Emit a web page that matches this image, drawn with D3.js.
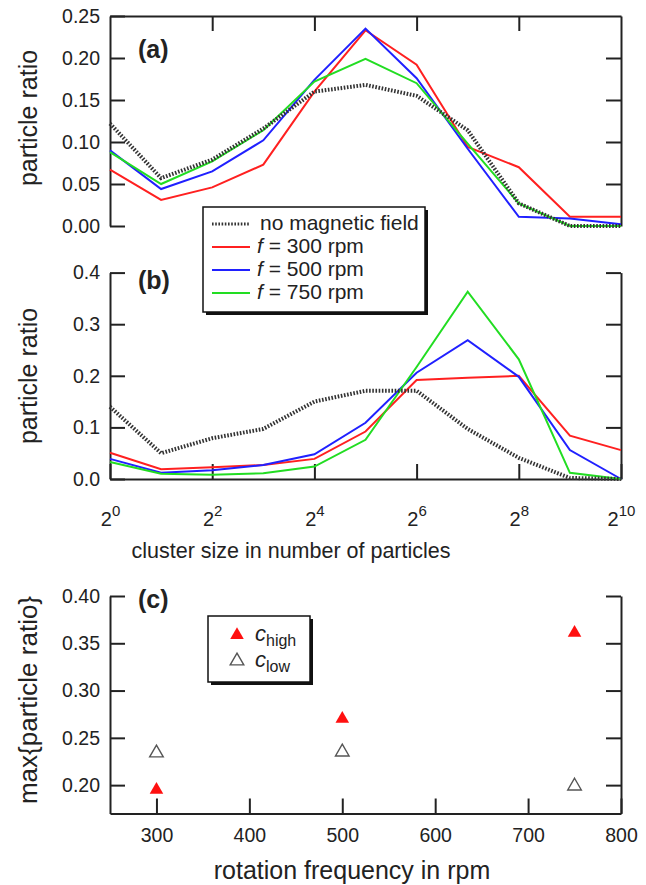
<!DOCTYPE html>
<html><head><meta charset="utf-8">
<script src="https://cdn.jsdelivr.net/npm/d3@7"></script>
<style>
body{margin:0;background:#fff}
svg text{font-family:"Liberation Sans",Arial,Helvetica,sans-serif;fill:#222}
</style>
</head><body>
<svg id="fig" width="646" height="885"></svg>
<script>
// ---------- data ----------
const clusterSizes = [1,2,4,8,16,32,64,128,256,512,1024];
const seriesNames = ["no magnetic field","f = 300 rpm","f = 500 rpm","f = 750 rpm"];
const seriesColors = ["#333333","#ff2020","#2020ff","#22dd22"];

const ratioA_noField = [0.122,0.057,0.079,0.116,0.160,0.168,0.155,0.114,0.027,0.000,0.000];
const ratioA_f300    = [0.067,0.031,0.046,0.073,0.160,0.233,0.192,0.094,0.070,0.011,0.011];
const ratioA_f500    = [0.090,0.044,0.065,0.102,0.174,0.235,0.176,0.092,0.011,0.009,0.002];
const ratioA_f750    = [0.088,0.050,0.077,0.114,0.172,0.199,0.170,0.098,0.027,0.000,0.000];

const ratioB_noField = [0.140,0.050,0.079,0.097,0.150,0.171,0.171,0.097,0.041,0.002,0.000];
const ratioB_f300    = [0.051,0.019,0.023,0.027,0.039,0.092,0.192,0.196,0.200,0.084,0.056];
const ratioB_f500    = [0.039,0.012,0.017,0.027,0.048,0.109,0.206,0.269,0.198,0.056,0.000];
const ratioB_f750    = [0.033,0.010,0.008,0.011,0.024,0.076,0.217,0.363,0.232,0.012,0.000];

const frequencies = [300,500,750];
const cHigh = [0.195,0.270,0.361];
const cLow  = [0.234,0.235,0.199];

const yTicksA = [0,0.05,0.10,0.15,0.20,0.25];
const yTicksB = [0,0.1,0.2,0.3,0.4];
const xExponents = [0,2,4,6,8,10];
const yTicksC = [0.20,0.25,0.30,0.35,0.40];
const xTicksC = [300,400,500,600,700,800];

// ---------- setup ----------
const svg = d3.select("#fig");
const FONT = '"Liberation Sans",Arial,Helvetica,sans-serif';
const INK = "#222";

const xA = d3.scaleLog().base(2).domain([1,1024]).range([110,621]);
const yA = d3.scaleLinear().domain([0,0.25]).range([226,16]);
const yB = d3.scaleLinear().domain([0,0.4]).range([479,272.6]);
const xC = d3.scaleLinear().domain([250,800]).range([110,621]);
const yC = d3.scaleLinear().domain([0.17,0.40]).range([813.5,596]);

function styleAxis(g){
  g.attr("font-family",FONT).attr("font-size",19.5).attr("color",INK);
  g.selectAll("path.domain").attr("stroke",INK).attr("stroke-width",2);
  g.selectAll(".tick line").attr("stroke",INK).attr("stroke-width",2);
  return g;
}

function drawAxes(xScale, yScale, opts){
  svg.append("g").attr("transform","translate(110,0)")
    .call(d3.axisLeft(yScale).tickValues(opts.yTicks).tickSize(-15).tickSizeOuter(0)
      .tickPadding(10).tickFormat(d3.format(opts.yFmt)))
    .call(styleAxis);
  svg.append("g").attr("transform","translate(621,0)")
    .call(d3.axisRight(yScale).tickValues(opts.rightTicks).tickSize(-15).tickSizeOuter(0).tickFormat(""))
    .call(styleAxis);
}

// ---------- panel (a) ----------
drawAxes(xA, yA, {yTicks:yTicksA, yFmt:".2f", rightTicks:[0.05,0.10,0.15,0.20]});
svg.append("g").attr("transform","translate(0,16)")
  .call(d3.axisTop(xA).tickValues([4,16,64,256]).tickSize(-15).tickSizeOuter(0).tickFormat(""))
  .call(styleAxis);

function drawLines(yScale, arrays){
  const line = d3.line().x((d,i)=>xA(clusterSizes[i])).y(d=>yScale(d));
  [1,2,3,0].forEach(k=>{
    const p = svg.append("path").attr("d", line(arrays[k])).attr("fill","none")
      .attr("stroke", seriesColors[k]).attr("stroke-linejoin","miter");
    if(k===0){ p.attr("stroke-width",4).attr("stroke-dasharray","1.6,1.6"); }
    else { p.attr("stroke-width",2); }
  });
}
drawLines(yA, [ratioA_noField, ratioA_f300, ratioA_f500, ratioA_f750]);

// ---------- panel (b) ----------
drawAxes(xA, yB, {yTicks:yTicksB, yFmt:".1f", rightTicks:[0.1,0.2,0.3,0.4]});
const gxB = svg.append("g").attr("transform","translate(0,479)")
  .call(d3.axisBottom(xA).tickValues(xExponents.map(e=>Math.pow(2,e))).tickSize(-15).tickSizeOuter(0).tickPadding(33))
  .call(styleAxis);
gxB.selectAll(".tick text").each(function(d){
  const t = d3.select(this).text(null).attr("dy",null).attr("y",46.7).attr("font-size",20);
  t.append("tspan").text("2");
  t.append("tspan").attr("font-size",15).attr("dy",-10).text(Math.round(Math.log2(d)));
});
drawLines(yB, [ratioB_noField, ratioB_f300, ratioB_f500, ratioB_f750]);

// legend (a)/(b)
const lg = svg.append("g");
lg.append("rect").attr("x",206).attr("y",210).attr("width",222).attr("height",105).attr("fill","#111");
lg.append("rect").attr("x",203).attr("y",207).attr("width",222).attr("height",105)
  .attr("fill","#fff").attr("stroke","#111").attr("stroke-width",1.5);
seriesNames.forEach((name,i)=>{
  const by = 230 + i*23;
  const ln = lg.append("line").attr("x1",212).attr("x2",250).attr("y1",by-6).attr("y2",by-6)
    .attr("stroke",seriesColors[i]);
  if(i===0) ln.attr("stroke-width",3).attr("stroke-dasharray","1.6,1.6");
  else ln.attr("stroke-width",2);
  const t = lg.append("text").attr("x",i===0?260:257).attr("y",by).attr("font-size",21);
  if(i===0){ t.text(name); }
  else {
    t.append("tspan").attr("font-style","italic").text("f");
    t.append("tspan").text(name.slice(1));
  }
});

// ---------- panel (c) ----------
drawAxes(xC, yC, {yTicks:yTicksC, yFmt:".2f", rightTicks:yTicksC});
svg.append("g").attr("transform","translate(0,813.5)")
  .call(d3.axisBottom(xC).tickValues(xTicksC).tickSize(-15).tickSizeOuter(0).tickPadding(15))
  .call(styleAxis);

const tri = d3.symbol().type(d3.symbolTriangle).size(80);
svg.append("g").selectAll("path").data(frequencies).join("path")
  .attr("d",tri).attr("transform",(d,i)=>`translate(${xC(d)},${yC(cLow[i])})`)
  .attr("fill","none").attr("stroke","#555").attr("stroke-width",1.4);
svg.append("g").selectAll("path").data(frequencies).join("path")
  .attr("d",tri).attr("transform",(d,i)=>`translate(${xC(d)},${yC(cHigh[i])})`)
  .attr("fill","#ff1010");

// legend (c)
const lc = svg.append("g");
lc.append("rect").attr("x",211).attr("y",619).attr("width",102).attr("height",66).attr("fill","#111");
lc.append("rect").attr("x",208).attr("y",616).attr("width",102).attr("height",66)
  .attr("fill","#fff").attr("stroke","#111").attr("stroke-width",1.5);
lc.append("path").attr("d",tri).attr("transform","translate(237,635)").attr("fill","#ff1010");
lc.append("path").attr("d",tri).attr("transform","translate(237,661)").attr("fill","none")
  .attr("stroke","#555").attr("stroke-width",1.4);
[["high",641],["low",667]].forEach(([sub,by])=>{
  const t = lc.append("text").attr("x",255).attr("y",by).attr("font-size",22);
  t.append("tspan").attr("font-style","italic").text("c");
  t.append("tspan").attr("font-size",16).attr("dy",5).text(sub);
});

// ---------- labels ----------
function label(txt,x,y,size,opts={}){
  const t = svg.append("text").attr("x",x).attr("y",y).attr("font-size",size).text(txt);
  if(opts.anchor) t.attr("text-anchor",opts.anchor);
  if(opts.bold) t.attr("font-weight","bold");
  if(opts.rot) t.attr("transform",`rotate(-90,${x},${y})`);
  return t;
}
label("(a)",138,58,25,{bold:true});
label("(b)",138,289,25,{bold:true});
label("(c)",138,608,25,{bold:true});
label("particle ratio",37,118,25,{anchor:"middle",rot:true});
label("particle ratio",37,376,25,{anchor:"middle",rot:true});
label("max{particle ratio}",37,700,26,{anchor:"middle",rot:true});
label("cluster size in number of particles",291,558,21.5,{anchor:"middle"});
label("rotation frequency in rpm",352,879,25,{anchor:"middle"});
</script>
</body></html>
